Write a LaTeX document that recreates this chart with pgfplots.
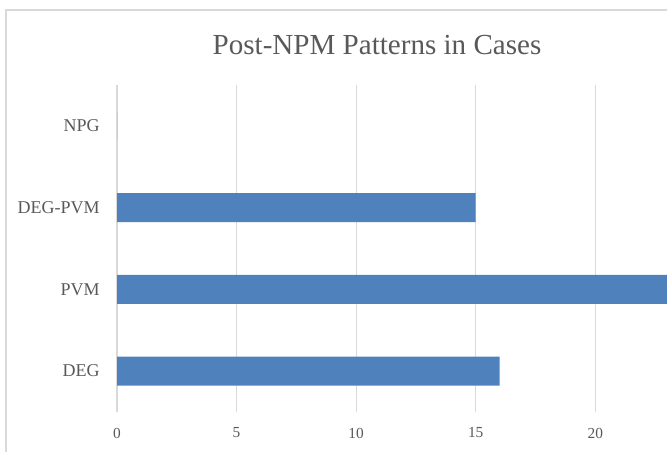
\documentclass[border=0pt]{standalone}
\usepackage{pgfplots}
\pgfplotsset{compat=1.18}
\usepackage{fontspec}
\setmainfont{Liberation Serif}
\definecolor{barblue}{HTML}{4F81BD}
\definecolor{gridgray}{HTML}{D9D9D9}
\definecolor{textgray}{HTML}{595959}
\begin{document}
\begin{tikzpicture}[x=0.75pt,y=0.75pt]
\useasboundingbox (0,0) rectangle (667,452);
\draw[gridgray, line width=1.2pt] (6,0) -- (6,442) -- (667,442);
\node[text=textgray, font=\fontsize{21.8}{26}\selectfont] at (377,407) {Post-NPM Patterns in Cases};
\begin{axis}[
  at={(87.75pt,30pt)}, anchor=south west,
  scale only axis, width=412.5pt, height=245.25pt,
  xbar, bar width=21.75pt,
  xmin=0, xmax=23, ymin=-0.5, ymax=3.5,
  xtick={0,5,10,15,20},
  ytick={0,1,2,3}, yticklabels={DEG,PVM,DEG-PVM,NPG},
  axis line style={draw=none},
  major tick length=0pt,
  xmajorgrids, grid style={gridgray, line width=0.9pt},
  tick label style={text=textgray},
  xticklabel style={font=\fontsize{11.5}{13}\selectfont, anchor=center, yshift=-15.75pt},
  yticklabel style={font=\fontsize{13.5}{15}\selectfont, inner sep=0pt, anchor=east, xshift=-12.75pt},
  /pgf/number format/assume math mode=true,
]
\addplot[fill=barblue, draw=none] coordinates {(16,0) (23,1) (15,2) (0,3)};
\end{axis}
\end{tikzpicture}
\end{document}
